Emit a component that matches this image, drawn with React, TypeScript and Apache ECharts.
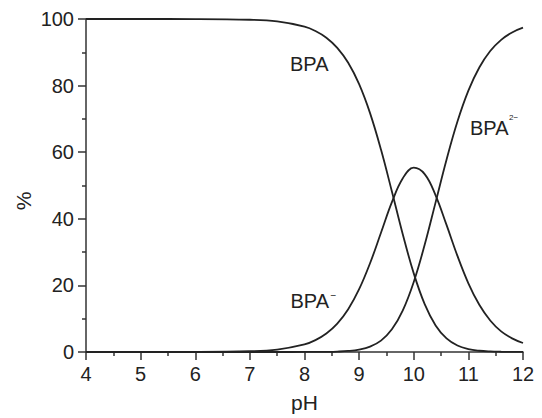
import React, { useEffect, useRef } from "react";
import * as echarts from "echarts";

const ph = [4, 5, 6, 7, 7.5, 8, 8.2, 8.4, 8.6, 8.8, 9.0, 9.2, 9.4, 9.6, 9.8, 10.0, 10.2, 10.4, 10.6, 10.8, 11.0, 11.2, 11.4, 11.6, 11.8, 12];
const bpa = [100, 100, 99.98, 99.77, 99.26, 97.71, 96.4, 94.39, 91.35, 86.85, 80.43, 71.74, 60.79, 48.2, 35.29, 23.61, 14.38, 7.99, 4.09, 1.95, 0.88, 0.38, 0.16, 0.07, 0.03, 0.01];
const bpaMinus = [0, 0, 0.02, 0.23, 0.74, 2.29, 3.58, 5.56, 8.53, 12.85, 18.85, 26.65, 35.79, 44.99, 52.19, 55.35, 53.43, 47.06, 38.16, 28.85, 20.64, 14.18, 9.46, 6.19, 4.1, 2.7];
const bpa2Minus = [0, 0, 0, 0, 0, 0.01, 0.02, 0.05, 0.13, 0.31, 0.72, 1.61, 3.42, 6.81, 12.52, 21.04, 32.19, 44.94, 57.75, 69.2, 78.48, 85.44, 90.38, 93.74, 95.97, 97.4];

const xTicks = { min: 4, max: 12, interval: 1 };
const yTicks = { min: 0, max: 100, interval: 20 };

const FONT = "'Liberation Sans', Arial, sans-serif";
const INK = "#222";

function pairs(ys: number[]) {
  return ph.map((x, i) => [x, ys[i]]);
}

export default function App() {
  const ref = useRef<HTMLDivElement>(null);
  useEffect(() => {
    if (!ref.current) return;
    const chart = echarts.init(ref.current, undefined, { renderer: "svg" });
    const axisCommon = {
      axisLine: { show: true, lineStyle: { color: "#333", width: 1.5 } },
      axisTick: { show: true, inside: false, length: 8, lineStyle: { color: "#333", width: 1.5 } },
      minorTick: { show: true, splitNumber: 2, length: 4, lineStyle: { color: "#333", width: 1.5 } },
      splitLine: { show: false },
      axisLabel: { color: INK, fontSize: 20, fontFamily: FONT, margin: 12 },
      nameTextStyle: { color: INK, fontSize: 21, fontFamily: FONT },
    };
    const lineSeries = (name: string, ys: number[]) => ({
      type: "line",
      name,
      data: pairs(ys),
      smooth: 0.4,
      showSymbol: false,
      symbol: "none",
      lineStyle: { color: INK, width: 1.8 },
    });
    const label = (text: string, x: number, y: number, size: number) => ({
      type: "text",
      x,
      y,
      style: { text, fontSize: size, fontFamily: FONT, fill: INK, align: "left", verticalAlign: "middle" },
    });
    chart.setOption({
      animation: false,
      backgroundColor: "#fff",
      grid: { left: 86, right: 19, top: 19, bottom: 65 },
      xAxis: {
        type: "value",
        ...xTicks,
        ...axisCommon,
        name: "pH",
        nameLocation: "middle",
        nameGap: 40,
      },
      yAxis: {
        type: "value",
        ...yTicks,
        ...axisCommon,
      },
      series: [
        lineSeries("BPA", bpa),
        lineSeries("BPA-", bpaMinus),
        lineSeries("BPA2-", bpa2Minus),
      ],
      graphic: [
        {
          type: "text",
          x: 23,
          y: 201,
          rotation: Math.PI / 2,
          style: { text: "%", fontSize: 21, fontFamily: FONT, fill: INK, align: "center", verticalAlign: "middle" },
        },
        label("BPA", 290, 63.5, 20),
        label("BPA", 470, 127.5, 20),
        label("2\u2212", 509, 117.5, 8),
        label("BPA", 290.5, 300.5, 20),
        label("\u2212", 330.5, 295, 10),
      ],
    });
    return () => chart.dispose();
  }, []);
  return <div ref={ref} style={{ position: "fixed", left: 0, top: 0, width: 542, height: 418 }} />;
}
